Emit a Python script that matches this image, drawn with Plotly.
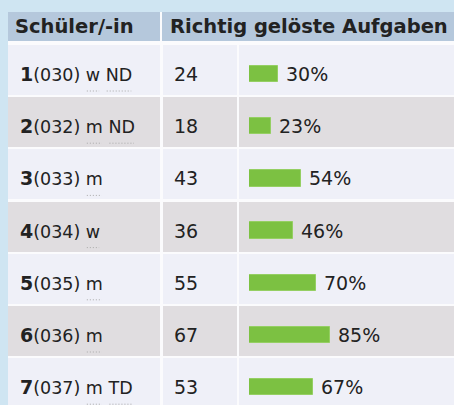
import plotly.graph_objects as go

# ---- data ----
student_no = ["1", "2", "3", "4", "5", "6", "7"]
student_code = ["030", "032", "033", "034", "035", "036", "037"]
gender = ["w", "m", "m", "w", "m", "m", "m"]
note = ["ND", "ND", "", "", "", "", "TD"]
correct = [24, 18, 43, 36, 55, 67, 53]
percent = [30, 23, 54, 46, 70, 85, 67]
header = ["Schüler/-in", "Richtig gelöste Aufgaben"]

# ---- layout constants (pixels) ----
W, H = 454, 405
PITCH = 52.2          # row pitch
C0 = 70.0             # centre of first body row
ROW_H = 50.0
HEAD_C, HEAD_H = 26.5, 29.0
FONT = "DejaVu Sans, Verdana, sans-serif"
TXT = "#222222"
BG = "#cfe5f2"
HEAD_BG = "#b5c8dc"
ROW_BG = ["#eff0f8", "#e0dde0"]
GAP = "#fbfbfd"
GREEN = "#7cc142"
FS_BIG = 19           # numbers, counts, percentages
FS_SMALL = 17.5       # student code / abbreviations
FS_HEAD = 19.5

# approximate DejaVu Sans advance widths (em) for underline placement
ADV = {"w": 0.818, "m": 0.974, "N": 0.748, "D": 0.770, "T": 0.611, " ": 0.318,
       "(": 0.390, ")": 0.390, "0": 0.636, "1": 0.636, "2": 0.636, "3": 0.636,
       "4": 0.636, "5": 0.636, "6": 0.636, "7": 0.636}

def text_w(s, size):
    return sum(ADV.get(c, 0.6) for c in s) * size

def u(px):            # pixels -> row units
    return px / PITCH

n = len(student_no)
idx = list(range(n))
row_cols = [ROW_BG[i % 2] for i in idx]
head_y = u(HEAD_C - C0)

fig = go.Figure()

# table cells (row backgrounds) per column
columns = [(8, 160), (163, 237), (239, 470)]
for left, right in columns:
    fig.add_trace(go.Bar(
        orientation="h", y=idx, x=[right - left] * n, base=left,
        width=u(ROW_H), marker=dict(color=row_cols, line=dict(width=0)),
        hoverinfo="skip", showlegend=False))

# header cells
for left, right in [(8, 160), (162, 470)]:
    fig.add_trace(go.Bar(
        orientation="h", y=[head_y], x=[right - left], base=left,
        width=u(HEAD_H), marker=dict(color=HEAD_BG, line=dict(width=0)),
        hoverinfo="skip", showlegend=False))

# percentage bars
bw = u(16.5)
fig.add_trace(go.Bar(
    orientation="h", y=idx, x=percent, xaxis="x2", yaxis="y",
    width=bw, offset=-bw / 2 + u(4),
    marker=dict(color=GREEN, line=dict(color="#95cf63", width=1)),
    hoverinfo="skip", showlegend=False))

ann = []
# header text
ann.append(dict(x=13, y=head_y, xref="x", yref="y", xanchor="left", yanchor="middle",
                text="<b>%s</b>" % header[0], showarrow=False,
                font=dict(family=FONT, size=FS_HEAD, color=TXT)))
ann.append(dict(x=168, y=head_y, xref="x", yref="y", xanchor="left", yanchor="middle",
                text="<b>%s</b>" % header[1], showarrow=False,
                font=dict(family=FONT, size=FS_HEAD, color=TXT)))

X_COL1, X_COL2, PAD = 18, 172, 2
shapes = [dict(type="rect", xref="x", yref="y", layer="below",
               x0=8, x1=W + 10, y0=u(HEAD_C - HEAD_H / 2 - C0), y1=u(H + 10 - C0),
               fillcolor=GAP, line=dict(width=0))]
for i in idx:
    small = "(%s) %s" % (student_code[i], gender[i])
    if note[i]:
        small += " " + note[i]
    label = "<b>%s</b><span style='font-size:%spx'>%s</span>" % (student_no[i], FS_SMALL, small)
    ty = i + u(4)
    ann.append(dict(x=X_COL1, y=ty, xref="x", yref="y", xanchor="left", yanchor="middle",
                    text=label, showarrow=False,
                    font=dict(family=FONT, size=FS_BIG, color=TXT)))
    ann.append(dict(x=X_COL2, y=ty, xref="x", yref="y", xanchor="left", yanchor="middle",
                    text=str(correct[i]), showarrow=False,
                    font=dict(family=FONT, size=FS_BIG, color=TXT)))
    ann.append(dict(x=percent[i], y=ty, xref="x2", yref="y", xanchor="left",
                    yanchor="middle", xshift=6,
                    text="%d%%" % percent[i], showarrow=False,
                    font=dict(family=FONT, size=FS_BIG, color=TXT)))
    # dotted abbreviation underlines
    uy = i + u(21)
    x0 = X_COL1 + PAD + 0.696 * FS_BIG + text_w("(%s) " % student_code[i], FS_SMALL)
    gw = text_w(gender[i], FS_SMALL)
    shapes.append(dict(type="line", xref="x", yref="y", x0=x0 + 1, x1=x0 + gw - 1,
                       y0=uy, y1=uy,
                       line=dict(color="#a8a8a8", width=1, dash="1px,2px")))
    if note[i]:
        x1 = x0 + gw + text_w(" ", FS_SMALL)
        nw = text_w(note[i], FS_SMALL)
        shapes.append(dict(type="line", xref="x", yref="y", x0=x1 + 1, x1=x1 + nw - 1,
                           y0=uy, y1=uy,
                           line=dict(color="#a8a8a8", width=1, dash="1px,2px")))

fig.update_layout(
    width=W, height=H, margin=dict(l=0, r=0, t=0, b=0, pad=0),
    paper_bgcolor=BG, plot_bgcolor="rgba(0,0,0,0)",
    barmode="overlay", bargap=0,
    xaxis=dict(range=[0, W], visible=False, fixedrange=True, domain=[0, 1]),
    xaxis2=dict(range=[0, 100], visible=False, fixedrange=True,
                domain=[249 / W, (249 + 95.5) / W], anchor="y"),
    yaxis=dict(range=[u(H - C0), u(0 - C0)], visible=False, fixedrange=True, domain=[0, 1]),
    annotations=ann, shapes=shapes, showlegend=False,
)

fig.write_html("out.html", config={"displayModeBar": False},
               post_script="document.body.style.margin='0';document.body.style.background='%s';" % BG)
